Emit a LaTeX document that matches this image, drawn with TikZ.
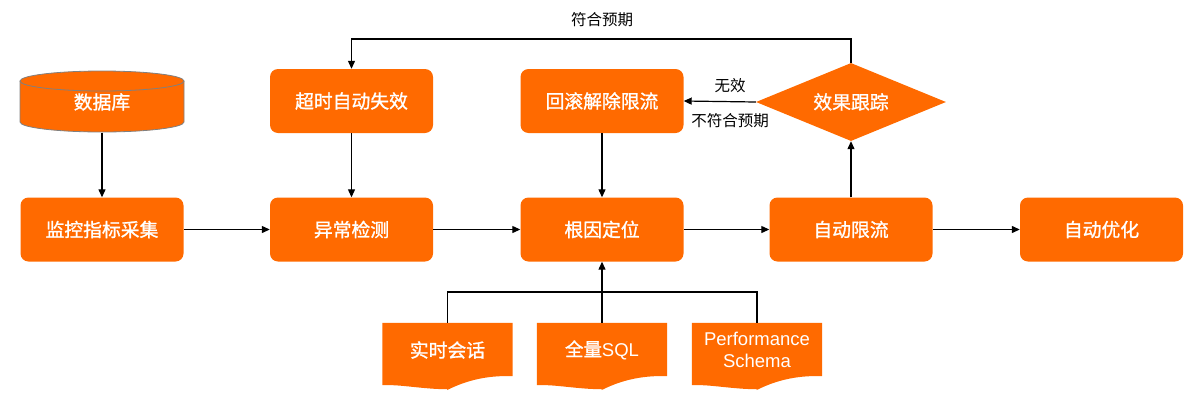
\documentclass[tikz,border=0pt]{standalone}
\usepackage{fontspec}
\setmainfont{Liberation Sans}
\newfontfamily\cjk{Noto Sans CJK SC}
\newfontfamily\cjkb[FakeBold=1.2]{Noto Sans CJK SC}
\usetikzlibrary{shapes.geometric,arrows.meta}
\definecolor{org}{HTML}{FF6A00}
\tikzset{
  wfont/.style={font=\cjkb\fontsize{18.8}{22}\selectfont},
  box/.style={rectangle, rounded corners=8pt, fill=org, minimum width=163pt, minimum height=64pt, inner sep=0pt, text=white, wfont},
  lbl/.style={text=black, font=\cjk\fontsize{15.5}{18}\selectfont, inner sep=0pt},
  wtxt/.style={text=white, inner sep=0pt, align=center, font=\fontsize{18.5}{22}\selectfont},
  docbox/.style={rectangle, minimum width=130pt, minimum height=65pt, inner sep=0pt},
  arr/.style={draw=black, line width=1.2pt, -{Triangle[length=8pt,width=7pt]}},
  ln/.style={draw=black, line width=1.2pt},
}
\newcommand{\docshape}[1]{%
  \fill[org] (#1.north west) -- (#1.north east) -- ([yshift=12pt]#1.south east)
    .. controls ([xshift=-45pt,yshift=14pt]#1.south east) and ([xshift=-70pt,yshift=-6pt]#1.south east) .. ([yshift=-1pt]#1.south)
    .. controls ([xshift=-25pt,yshift=-1pt]#1.south) and ([xshift=18pt,yshift=4pt]#1.south west) .. ([yshift=3pt]#1.south west) -- cycle;}
\begin{document}
\begin{tikzpicture}[x=1pt,y=-1pt]
\useasboundingbox (0,0) rectangle (1202,402);
% database cylinder
\fill[org] (20,81) -- (20,122) arc[start angle=180,end angle=360,x radius=82pt,y radius=10pt] -- (184,81) arc[start angle=0,end angle=180,x radius=82pt,y radius=10pt] -- cycle;
\draw[gray, line width=0.8pt] (20,81) -- (20,122) arc[start angle=180,end angle=360,x radius=82pt,y radius=10pt] -- (184,81);
\draw[gray, line width=0.8pt] (102,81) ellipse[x radius=82pt, y radius=10pt];
\node[rectangle, minimum width=164pt, minimum height=61pt, inner sep=0pt, text=white, wfont] (db) at (102,102) {数据库};
% main row
\node[box] (b1) at (102,229.5) {监控指标采集};
\node[box] (b2) at (351.5,229.5) {异常检测};
\node[box] (b3) at (602,229.5) {根因定位};
\node[box] (b4) at (851,229.5) {自动限流};
\node[box] (b5) at (1101.5,229.5) {自动优化};
% top row
\node[box] (t1) at (351.5,101) {超时自动失效};
\node[box] (t2) at (602,101) {回滚解除限流};
\node[diamond, fill=org, aspect=2.44, minimum width=190pt, minimum height=78pt, inner sep=0pt, text=white, wfont] (dm) at (851,102) {效果跟踪};
% documents
\node[docbox] (d1) at (447.5,355.5) {};
\node[docbox] (d2) at (602,355.5) {};
\node[docbox] (d3) at (757,355.5) {};
\docshape{d1}\docshape{d2}\docshape{d3}
\node[wtxt, wfont] (x1) at (447.5,350) {实时会话};
\node[wtxt] (x2) at (602,350) {{\cjkb 全量}SQL};
\node[wtxt] (x3) at (757,350) {Performance\\Schema};
% connectors
\draw[arr] (db.south) -- (b1.north);
\draw[arr] (b1.east) -- (b2.west);
\draw[arr] (b2.east) -- (b3.west);
\draw[arr] (b3.east) -- (b4.west);
\draw[arr] (b4.east) -- (b5.west);
\draw[arr] (t1.south) -- (b2.north);
\draw[arr] (t2.south) -- (b3.north);
\draw[arr] (b4.north) -- (dm.south);
\draw[arr] (dm.west) -- (t2.east);
\coordinate (lp) at (851,39);
\coordinate (lq) at (351.5,39);
\draw[arr] (dm.north) -- (lp) -- (lq) -- (t1.north);
\coordinate (hb) at (602,292);
\draw[ln] (d1.north) -- (d1.north |- hb) -- (d3.north |- hb) -- (d3.north);
\draw[ln] (d2.north) -- (hb);
\draw[arr] (hb) -- (b3.south);
% labels
\node[lbl] (l1) at (602,20) {符合预期};
\node[lbl] (l2) at (730,86) {无效};
\node[lbl] (l3) at (730,121) {不符合预期};
\end{tikzpicture}
\end{document}
